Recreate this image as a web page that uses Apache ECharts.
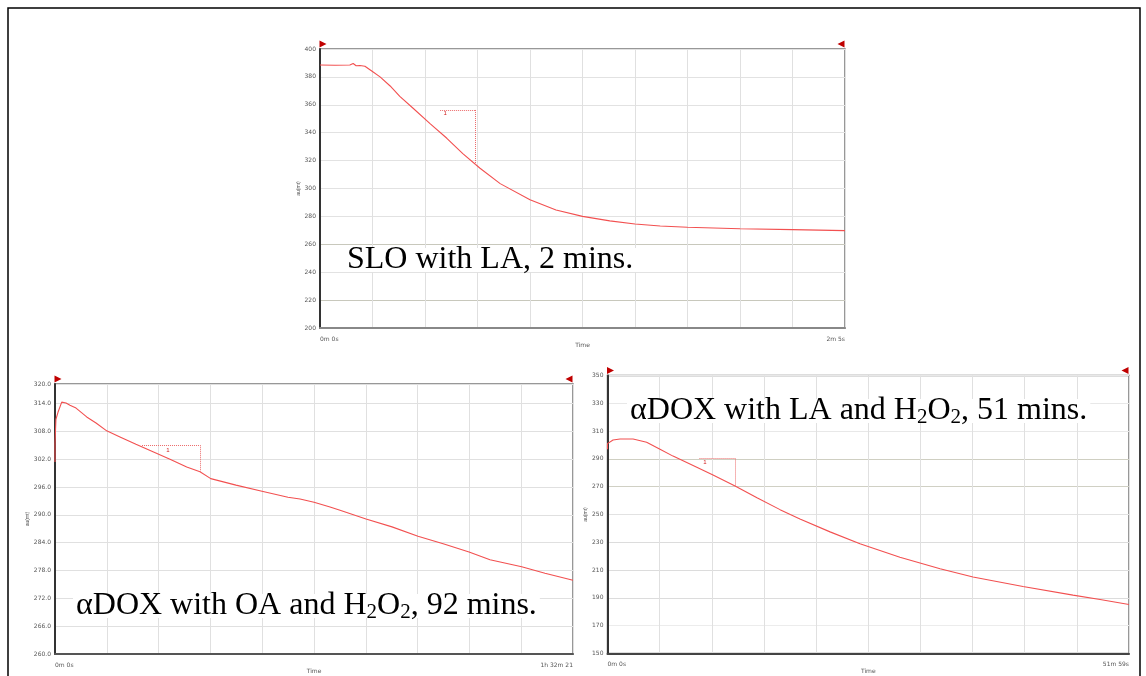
<!DOCTYPE html>
<html>
<head>
<meta charset="utf-8">
<script src="https://cdn.jsdelivr.net/npm/echarts@6/dist/echarts.min.js"></script>
<style>
  html, body { margin: 0; padding: 0; background: #fff; }
  #chart { width: 1146px; height: 676px; }
</style>
</head>
<body>
<div id="chart"></div>
<script>
// SLO with LA, 2 mins  (time in s, signal)
var sloTime   = [0, 3.6, 7.1, 7.9, 8.6, 9.5, 10.7, 12.4, 14.3, 16.7, 19.0, 22.1, 26.2, 30.2, 34.0, 38.1, 42.9, 50, 56.2, 62.5, 69, 75, 81, 87.5, 100, 112.5, 125];
var sloSignal = [388.5, 388.3, 388.5, 389.6, 388.0, 388.2, 387.6, 384.0, 380.0, 373.5, 366.0, 357.7, 346.5, 336.0, 325.0, 314.5, 303.5, 292.0, 284.6, 280.0, 276.8, 274.5, 273.1, 272.2, 271.2, 270.5, 269.8];

// aDOX with OA and H2O2, 92 mins
var oaTime   = [0, 0, 10, 32, 72, 118, 160, 225, 339, 439, 553, 695, 866, 1048, 1230, 1409, 1551, 1666, 1936, 2214, 2492, 2621, 2771, 2942, 3049, 3327, 3605, 3883, 4161, 4429, 4653, 4992, 5241, 5541];
var oaSignal = [301.4, 305.4, 310.6, 312.1, 314.3, 314.1, 313.6, 313.0, 311.1, 309.8, 308.1, 306.8, 305.2, 303.6, 302.0, 300.3, 299.3, 297.8, 296.4, 295.1, 293.8, 293.4, 292.7, 291.7, 291.0, 289.1, 287.4, 285.4, 283.7, 282.0, 280.3, 278.8, 277.4, 275.9];

// aDOX with LA and H2O2, 51 mins
var laTime   = [0, 0, 33, 75, 153, 234, 314, 392, 534, 631, 763, 894, 1032, 1151, 1331, 1510, 1749, 1989, 2186, 2485, 2784, 2946, 3119];
var laSignal = [297.0, 301.0, 303.6, 304.3, 304.3, 302.0, 297.0, 292.0, 284.0, 278.5, 270.5, 262.0, 253.5, 246.8, 237.5, 229.0, 219.3, 211.0, 205.0, 198.2, 192.0, 188.8, 185.3];

// axis extents / tick labels
var sloX = [0, 125], sloY = [200, 400, 20];
var oaX  = [0, 5541], oaY = [260, 318.2, 6];
var laX  = [0, 3119], laY = [150, 350, 20];
var sloXLabels = ['0m 0s', '2m 5s'];
var oaXLabels  = ['0m 0s', '1h 32m 21'];
var laXLabels  = ['0m 0s', '51m 59s'];
var oaTopLabel = '320.0';

// marker "1" bracket: [t1, t2, level, curveValue, labelT, labelV]
var sloMark = [28.6, 37.0, 356.3, 317.0, 29.8, 353.6];
var oaMark  = [931, 1551, 305.0, 299.3, 1209, 304.0];
var laMark  = [550, 763, 290.3, 270.5, 583, 287.7];

function zip(a, b) { return a.map(function (v, i) { return [v, b[i]]; }); }

var tiny = { fontSize: 6, color: '#555', fontFamily: 'DejaVu Sans' };
var traceRed = '#f25050';
var markRed = '#ec6a6a';

function xAxisFor(idx, ext, labels, bottomColor) {
  return {
    gridIndex: idx, type: 'value', min: ext[0], max: ext[1], interval: (ext[1] - ext[0]) / 10,
    axisLine: { lineStyle: { color: bottomColor, width: 2 } },
    axisTick: { show: false },
    axisLabel: {
      fontSize: 6, color: '#555', fontFamily: 'DejaVu Sans', margin: 8,
      showMinLabel: true, showMaxLabel: true, alignMinLabel: 'left', alignMaxLabel: 'right',
      formatter: function (v) {
        if (v === ext[0]) return labels[0];
        if (Math.abs(v - ext[1]) < 1e-6) return labels[1];
        return '';
      }
    },
    splitLine: { show: true, lineStyle: { color: '#e0e0e0', width: 1 } },
    name: 'Time', nameLocation: 'middle', nameGap: 10, nameTextStyle: tiny
  };
}

function yAxisFor(idx, ext, fmt, gap, lineColors) {
  return {
    gridIndex: idx, type: 'value', min: ext[0], max: ext[1], interval: ext[2],
    axisLine: { show: true, lineStyle: { color: '#333', width: 2 } },
    axisTick: { show: false },
    axisLabel: { fontSize: 6, color: '#555', fontFamily: 'DejaVu Sans', margin: 4, formatter: fmt },
    splitLine: { show: true, lineStyle: { color: lineColors, width: 1 } },
    name: 'au(mt)', nameLocation: 'middle', nameRotate: 90, nameGap: gap, nameTextStyle: { fontSize: 5, color: '#555' }
  };
}

function seriesFor(idx, data, mark, ext) {
  var dot = { type: 'dotted', color: markRed, width: 1 };
  return {
    type: 'line', xAxisIndex: idx, yAxisIndex: idx, data: data,
    color: traceRed,
    showSymbol: false, symbol: 'none', smooth: false,
    itemStyle: { color: traceRed },
    lineStyle: { color: traceRed, width: 1.1 },
    markLine: {
      silent: true, symbol: ['none', 'none'], label: { show: false },
      itemStyle: { color: markRed },
      lineStyle: dot,
      data: [
        [{ coord: [mark[0], mark[2]], lineStyle: dot }, { coord: [mark[1], mark[2]] }],
        [{ coord: [mark[1], mark[2]], lineStyle: dot }, { coord: [mark[1], mark[3]] }]
      ]
    },
    markPoint: {
      silent: true,
      data: [
        { coord: [mark[4], mark[5]], symbol: 'circle', symbolSize: 0,
          label: { show: true, formatter: '1', fontSize: 6, color: '#d02020', position: 'inside' } },
        { coord: [ext[0], ext[2]], symbol: 'triangle', symbolSize: 7, symbolRotate: -90,
          symbolOffset: [3, -5], itemStyle: { color: '#c00000' }, label: { show: false } },
        { coord: [ext[1], ext[2]], symbol: 'triangle', symbolSize: 7, symbolRotate: 90,
          symbolOffset: [-4, -5], itemStyle: { color: '#c00000' }, label: { show: false } }
      ]
    }
  };
}

var serif = { fontSize: 32, fontFamily: 'Liberation Serif', color: '#000', lineHeight: 24 };
var sub = { fontSize: 21, fontFamily: 'Liberation Serif', color: '#000', lineHeight: 24, padding: [12, 0, 0, 0] };

function caption(x, y, text) {
  return {
    type: 'text', x: x, y: y, z: 50,
    style: { text: text, rich: { a: serif, s: sub }, backgroundColor: '#fff', padding: [0, 3], fill: '#000' }
  };
}

var chart = echarts.init(document.getElementById('chart'));
chart.setOption({
  animation: false,
  backgroundColor: '#fff',
  grid: [
    { left: 320, top: 49, width: 525, height: 279, show: true, borderColor: '#777', borderWidth: 1.5 },
    { left: 55, top: 384, width: 518, height: 270, show: true, borderColor: '#777', borderWidth: 1.5 },
    { left: 607.5, top: 375.5, width: 521.5, height: 278, show: true, borderColor: '#777', borderWidth: 1.5 }
  ],
  xAxis: [
    xAxisFor(0, sloX, sloXLabels, '#888'),
    xAxisFor(1, oaX, oaXLabels, '#555'),
    xAxisFor(2, laX, laXLabels, '#444')
  ],
  yAxis: [
    yAxisFor(0, sloY, function (v) { return String(v); }, 17,
      ['#e2e2e2', '#c8c8bc', '#e2e2e2', '#c8c8bc', '#e2e2e2', '#e2e2e2', '#e2e2e2', '#e2e2e2', '#e2e2e2', '#e2e2e2', '#e2e2e2']),
    yAxisFor(1, oaY, function (v) { return v >= oaY[1] - 1e-6 ? oaTopLabel : v.toFixed(1); }, 22,
      ['#e0e0e0']),
    yAxisFor(2, laY, function (v) { return String(v); }, 17,
      ['#e6e6e6', '#ececec', '#dcdcdc', '#dcdcdc', '#dcdcdc', '#e2e2e2', '#d0d0c4', '#cfcfc2', '#e8e8e8', '#e8e8e8', '#e8e8e8'])
  ],
  series: [
    seriesFor(0, zip(sloTime, sloSignal), sloMark, [sloX[0], sloX[1], sloY[1]]),
    seriesFor(1, zip(oaTime, oaSignal), oaMark, [oaX[0], oaX[1], oaY[1]]),
    seriesFor(2, zip(laTime, laSignal), laMark, [laX[0], laX[1], laY[1]])
  ],
  graphic: [
    { type: 'rect', shape: { x: 8, y: 8, width: 1132, height: 700 }, style: { fill: 'none', stroke: '#000', lineWidth: 1.5 }, silent: true },
    caption(344, 248, '{a|SLO with LA, 2 mins.}'),
    caption(73, 594, '{a|\u03b1DOX with OA and H}{s|2}{a|O}{s|2}{a|, 92 mins.}'),
    caption(627, 399, '{a|\u03b1DOX with LA and H}{s|2}{a|O}{s|2}{a|, 51 mins.}')
  ]
});
</script>
</body>
</html>
